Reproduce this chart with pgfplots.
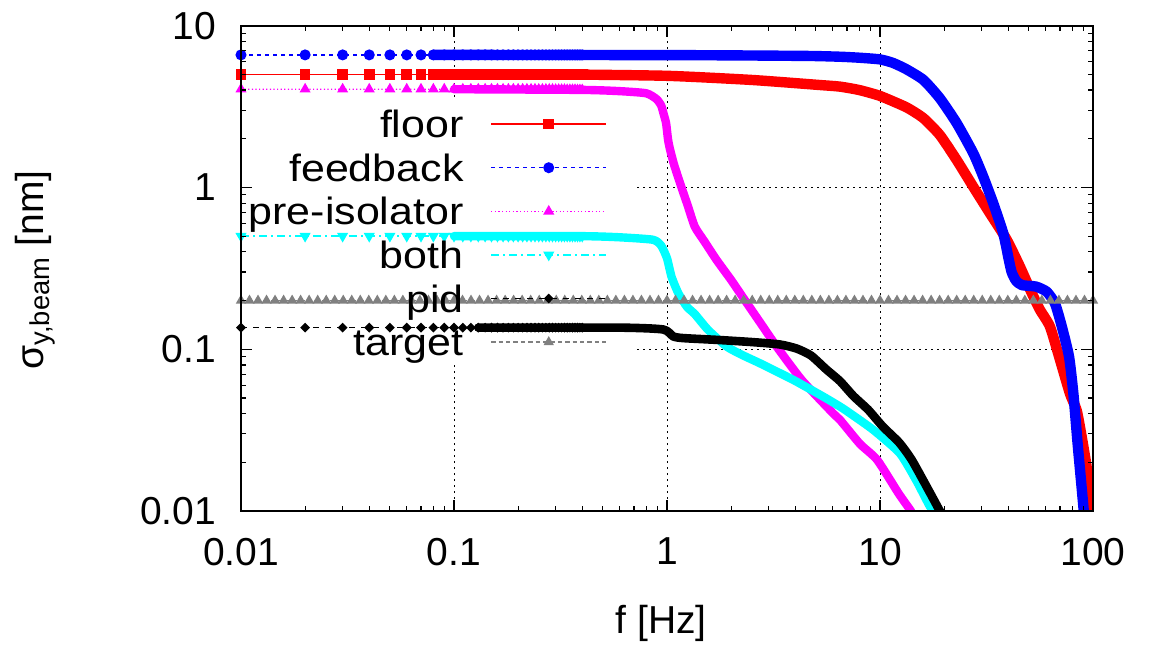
\documentclass[border=0pt]{standalone}
\usepackage{fontspec}
\setmainfont{Liberation Sans}
\usepackage{graphicx}
\usepackage{pgfplots}
\usepackage{pgfplotstable}
\pgfplotsset{compat=1.18}
\pgfplotsset{
  layers/mylayers/.define layer set={
    axis background,axis grid,pre main,main,axis ticks,axis lines,axis tick labels,axis descriptions,axis foreground
  }{
    grid style={/pgfplots/on layer=axis grid},
    tick style={/pgfplots/on layer=axis ticks},
    axis line style={/pgfplots/on layer=axis lines},
    label style={/pgfplots/on layer=axis descriptions},
    legend style={/pgfplots/on layer=axis descriptions},
    title style={/pgfplots/on layer=axis descriptions},
    colorbar style={/pgfplots/on layer=axis descriptions},
    ticklabel style={/pgfplots/on layer=axis tick labels},
    axis background@ style={/pgfplots/on layer=axis background},
    3d box foreground style={/pgfplots/on layer=axis foreground},
  },
}
\definecolor{cfloor}{RGB}{255,0,0}
\definecolor{cfeed}{RGB}{0,0,255}
\definecolor{cpre}{RGB}{255,0,255}
\definecolor{cboth}{RGB}{0,255,255}
\definecolor{cpid}{RGB}{0,0,0}
\definecolor{ctarget}{RGB}{128,128,128}
\newcommand{\F}{\fontsize{19.5}{23}\selectfont}
\newcommand{\LF}{\fontsize{19}{23}\selectfont}
\newcommand{\LE}[1]{\scalebox{1.13}[1]{#1}}

\pgfplotstableread{
f     floor feedback pre  both pid
0.01  5.0  6.6  4.05 0.5 0.136
0.02  5.0  6.6  4.05 0.5 0.136
0.03  5.0  6.6  4.05 0.5 0.136
0.04  5.0  6.6  4.05 0.5 0.136
0.05  5.0  6.6  4.05 0.5 0.136
0.06  5.0  6.6  4.05 0.5 0.136
0.07  5.0  6.6  4.05 0.5 0.136
0.08  5.0  6.6  4.05 0.5 0.136
0.09  5.0  6.6  4.05 0.5 0.136
0.10  5.0  6.6  4.05 0.5 0.136
0.11  5.0  6.6  4.05 0.5 0.136
0.12  5.0  6.6  4.05 0.5 0.136
0.13  5.0  6.6  4.05 0.5 0.136
0.14  5.0  6.6  4.05 0.5 0.136
0.15  5.0  6.6  4.05 0.5 0.136
0.16  5.0  6.6  4.05 0.5 0.136
0.17  5.0  6.6  4.05 0.5 0.136
0.18  5.0  6.6  4.05 0.5 0.136
0.19  5.0  6.6  4.05 0.5 0.136
0.20  5.0  6.6  4.05 0.5 0.136
0.21  5.0  6.6  4.05 0.5 0.136
0.22  5.0  6.6  4.05 0.5 0.136
0.23  5.0  6.6  4.05 0.5 0.136
0.24  5.0  6.6  4.05 0.5 0.136
0.25  5.0  6.6  4.04 0.5 0.136
0.26  5.0  6.6  4.04 0.5 0.136
0.27  5.0  6.6  4.04 0.5 0.136
0.28  5.0  6.6  4.04 0.5 0.136
0.29  5.0  6.6  4.04 0.5 0.136
0.30  5.0  6.6  4.03 0.5 0.136
0.31  5.0  6.6  4.03 0.5 0.136
0.32  5.0  6.6  4.03 0.5 0.136
0.33  5.0  6.6  4.03 0.5 0.136
0.34  5.0  6.6  4.02 0.5 0.136
0.35  5.0  6.6  4.02 0.5 0.136
0.36  5.0  6.6  4.02 0.5 0.136
0.37  5.0  6.6  4.02 0.5 0.136
0.38  5.0  6.6  4.01 0.5 0.136
0.39  5.0  6.6  4.01 0.5 0.136
0.40  5.0  6.6  4.01 0.5 0.136
}\lowf

\begin{document}
\begin{tikzpicture}
\begin{axis}[
  set layers=mylayers,
  scale only axis, width=426pt, height=242.65pt,
  xmode=log, ymode=log,
  xmin=0.01, xmax=100, ymin=0.01, ymax=10,
  xtick={0.01,0.1,1,10,100}, xticklabels={0.01,0.1,1,10,100},
  ytick={0.01,0.1,1,10}, yticklabels={0.01,0.1,1,10},
  tick label style={font=\F},
  xticklabel style={yshift=-10pt},
  yticklabel style={xshift=-9pt},
  major tick length=5.5pt, minor tick length=2.5pt,
  every tick/.style={black, line width=0.6pt},
  axis line style={line width=1pt},
  grid=major,
  major grid style={black, line width=0.5pt, dash pattern=on 0.8pt off 2.2pt},
  clip mode=individual,
  xlabel={f [Hz]}, ylabel={σ\textsubscript{y,beam} [nm]},
  label style={font=\F},
  xlabel style={at={(axis description cs:0.493,-0.2308)}, anchor=center},
  ylabel style={at={(axis description cs:-0.2418,0.497)}, anchor=center},
  legend plot pos=right,
  legend cell align=right,
  legend style={draw=none, fill=none, font=\LF, inner sep=0pt,
    at={(axis description cs:0.430,0.8277)}, anchor=north east,
    row sep=7.4pt, column sep=13.5pt,
    nodes={inner sep=0pt, text height=14pt, text depth=0.4pt}},
  legend image code/.code={\draw[mark repeat=2,mark phase=2] plot coordinates {(0pt,0pt)(28.75pt,0pt)(57.5pt,0pt)};},
  band/.style={line join=round, line cap=round, smooth, tension=0.35, forget plot},
]
\begin{pgfonlayer}{pre main}
\fill[white] (rel axis cs:0,0.305) rectangle (rel axis cs:0.4607,0.847);
\end{pgfonlayer}

% floor
\addplot[cfloor, line width=0.7pt, mark=square*, mark size=2.3pt, mark options={solid}] table[x=f,y=floor]{\lowf};
\addplot[cfloor, line width=5.2pt, band] coordinates {
(0.08,5.0)(0.3,5.0)(1,4.9)(2.5,4.62)(5.2,4.3)(6.5,4.2)(8,4.0)(10,3.68)(13.3,3.13)(16,2.68)(19.1,2.11)(22.9,1.48)(27.4,1.01)(32.8,0.693)(39.4,0.474)(45.4,0.324)(51.6,0.222)(56.4,0.175)(62.8,0.138)(70,0.086)(78,0.053)(83.8,0.042)(88,0.03)(92.7,0.02)(96,0.014)(99,0.01)(100,0.0095)};

% feedback
\addplot[cfeed, line width=0.7pt, dash pattern=on 2pt off 2pt, mark=*, mark size=2.4pt, mark options={solid}] table[x=f,y=feedback]{\lowf};
\addplot[cfeed, line width=5.2pt, band] coordinates {
(0.08,6.6)(1,6.58)(2.2,6.55)(4.7,6.5)(6.5,6.43)(8,6.34)(10,6.19)(11.5,5.89)(13.3,5.38)(16,4.62)(19.1,3.56)(22.9,2.5)(27.4,1.63)(30.5,1.17)(34,0.8)(37.9,0.521)(40.2,0.36)(41.5,0.30)(43.5,0.265)(46.4,0.249)(54,0.244)(60.6,0.227)(66.3,0.192)(71.4,0.138)(77.2,0.09)(80.9,0.053)(84.7,0.026)(88,0.015)(90.5,0.01)(91,0.009)};

% pre-isolator
\addplot[cpre, line width=0.7pt, dash pattern=on 0.6pt off 1.2pt, mark=triangle*, mark size=2.5pt, mark options={solid}] table[x=f,y=pre]{\lowf};
\addplot[cpre, line width=4.2pt, band] coordinates {
(0.1,4.05)(0.4,4.01)(0.6,3.94)(0.8,3.82)(0.895,3.51)(0.94,3.2)(0.962,2.88)(0.99,2.5)(1.01,2.0)(1.03,1.75)(1.08,1.38)(1.17,1.0)(1.25,0.776)(1.35,0.573)(1.5,0.463)(1.71,0.356)(2.0,0.268)(2.32,0.201)(2.75,0.145)(3.27,0.104)(4.29,0.0646)(6.04,0.040)(6.49,0.0366)(8.05,0.026)(9.7,0.0207)(12.2,0.0129)(13.9,0.0101)(14.1,0.0097)};

% both
\addplot[cboth, line width=0.7pt, dash pattern=on 4pt off 2pt on 1pt off 2pt, mark=triangle*, mark size=2.5pt, mark options={solid, rotate=180}] table[x=f,y=both]{\lowf};
\addplot[cboth, line width=4.2pt, band] coordinates {
(0.1,0.5)(0.4,0.5)(0.6,0.492)(0.86,0.475)(0.94,0.436)(1.0,0.365)(1.05,0.281)(1.13,0.222)(1.24,0.183)(1.35,0.165)(1.56,0.1316)(1.91,0.1037)(2.3,0.091)(2.73,0.0819)(3.92,0.0646)(5.42,0.0509)(6.49,0.0442)(7.23,0.0402)(9.31,0.0317)(12.4,0.0227)(14.9,0.0152)(17.2,0.0106)(18.5,0.0098)};

% pid
\addplot[cpid, line width=0.7pt, dash pattern=on 3pt off 3pt, mark=square*, mark size=1.4pt, mark options={solid, rotate=45}] table[x=f,y=pid]{\lowf};
\addplot[cpid, line width=4.3pt, band] coordinates {
(0.13,0.136)(0.6,0.136)(0.96,0.1325)(1.07,0.12)(1.19,0.1172)(1.77,0.114)(2.54,0.1106)(3.39,0.107)(4.06,0.101)(4.74,0.0915)(5.6,0.075)(6.49,0.0635)(7.5,0.0514)(8.81,0.0422)(10.3,0.0333)(12.3,0.0265)(14.1,0.0207)(17.2,0.0129)(19.1,0.01)(19.3,0.0098)};

% target
\addplot[ctarget, line width=0.7pt, dash pattern=on 2.2pt off 1.5pt, mark=triangle*, mark size=2.3pt, mark options={solid}] coordinates {
(0.01,0.2)(0.01096,0.2)(0.01202,0.2)(0.01318,0.2)(0.01445,0.2)(0.01585,0.2)(0.01738,0.2)(0.01905,0.2)(0.02089,0.2)(0.02291,0.2)(0.02512,0.2)(0.02754,0.2)(0.0302,0.2)(0.03311,0.2)(0.03631,0.2)(0.03981,0.2)(0.04365,0.2)(0.04786,0.2)(0.05248,0.2)(0.05754,0.2)(0.0631,0.2)(0.06918,0.2)(0.07586,0.2)(0.08318,0.2)(0.0912,0.2)
(0.1,0.2)(0.1096,0.2)(0.1202,0.2)(0.1318,0.2)(0.1445,0.2)(0.1585,0.2)(0.1738,0.2)(0.1905,0.2)(0.2089,0.2)(0.2291,0.2)(0.2512,0.2)(0.2754,0.2)(0.302,0.2)(0.3311,0.2)(0.3631,0.2)(0.3981,0.2)(0.4365,0.2)(0.4786,0.2)(0.5248,0.2)(0.5754,0.2)(0.631,0.2)(0.6918,0.2)(0.7586,0.2)(0.8318,0.2)(0.912,0.2)
(1,0.2)(1.096,0.2)(1.202,0.2)(1.318,0.2)(1.445,0.2)(1.585,0.2)(1.738,0.2)(1.905,0.2)(2.089,0.2)(2.291,0.2)(2.512,0.2)(2.754,0.2)(3.02,0.2)(3.311,0.2)(3.631,0.2)(3.981,0.2)(4.365,0.2)(4.786,0.2)(5.248,0.2)(5.754,0.2)(6.31,0.2)(6.918,0.2)(7.586,0.2)(8.318,0.2)(9.12,0.2)
(10,0.2)(10.96,0.2)(12.02,0.2)(13.18,0.2)(14.45,0.2)(15.85,0.2)(17.38,0.2)(19.05,0.2)(20.89,0.2)(22.91,0.2)(25.12,0.2)(27.54,0.2)(30.2,0.2)(33.11,0.2)(36.31,0.2)(39.81,0.2)(43.65,0.2)(47.86,0.2)(52.48,0.2)(57.54,0.2)(63.1,0.2)(69.18,0.2)(75.86,0.2)(83.18,0.2)(91.2,0.2)(100,0.2)};

\legend{\LE{floor},\LE{feedback},\LE{pre-isolator},\LE{both},\LE{pid},\LE{target}}
\end{axis}
\pgfresetboundingbox
\path[use as bounding box] (current axis.south west) ++(-120.5pt,-66.5pt) rectangle ++(577pt,322pt);
\end{tikzpicture}
\end{document}
